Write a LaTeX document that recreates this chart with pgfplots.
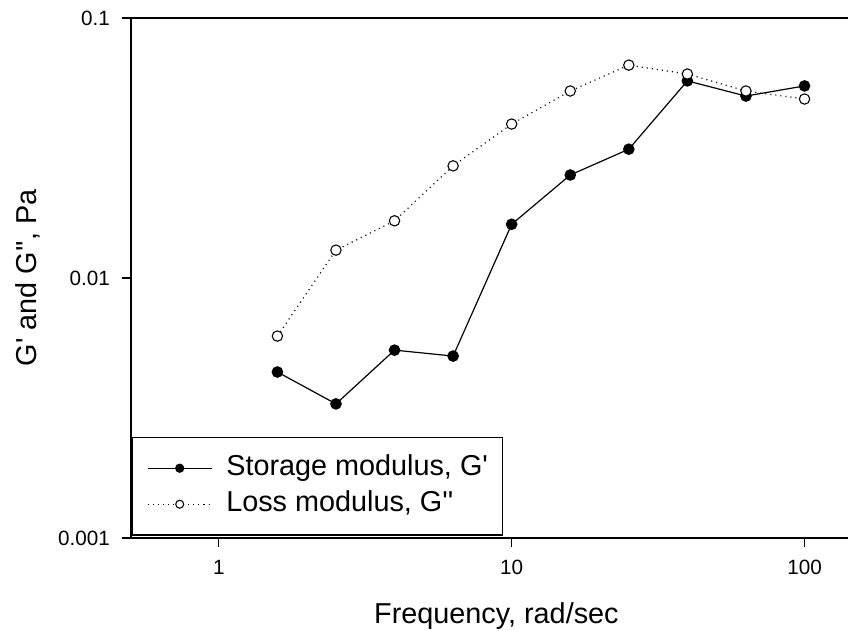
\documentclass[border=0pt]{standalone}
\usepackage{pgfplots}
\pgfplotsset{compat=1.18}
\usepackage{fontspec}
\setmainfont{Liberation Sans}
\newcommand{\sq}{\textquotesingle}
\begin{document}
\begin{tikzpicture}
\begin{axis}[
  scale only axis,
  width=571.5pt, height=390pt,
  xmode=log, ymode=log,
  xmin=0.5, xmax=200, ymin=0.001, ymax=0.1,
  xtick={1,10,100}, xticklabels={1,10,100},
  ytick={0.001,0.01,0.1}, yticklabels={0.001,0.01,0.1},
  minor tick style={draw=none},
  tick align=outside,
  xtick pos=bottom, ytick pos=left,
  major tick length=6.5pt,
  tick style={black, line width=0.9pt},
  axis line style={black, line width=1.3pt},
  ticklabel style={font=\fontsize{15.5}{18}\selectfont},
  yticklabel style={inner xsep=0pt, xshift=-9pt},
  xticklabel style={inner ysep=0pt, yshift=-10pt},
  /pgf/number format/assume math mode=true,
  xlabel={Frequency, rad/sec},
  ylabel={G\sq{} and G\sq\sq, Pa},
  label style={font=\fontsize{21.6}{26}\selectfont},
  xlabel style={at={(rel axis cs:0.480,-0.1635)}, anchor=base},
  ylabel style={at={(rel axis cs:-0.123,0.5)}, anchor=base, rotate=0},
  legend cell align=left,
  legend style={at={(rel axis cs:0.0013,0.0045)}, anchor=south west,
    draw=black, line width=1.2pt, inner xsep=11pt, inner ysep=13pt,
    row sep=7pt, column sep=10.5pt,
    font=\fontsize{21.6}{26}\selectfont,
    nodes={inner xsep=0pt, inner ysep=0pt, text height=15.5pt, text depth=4.5pt}},
  legend image code/.code={
    \draw[mark repeat=2, mark phase=2, #1, mark size=3pt]
      plot coordinates {(0pt,0pt) (24pt,0pt) (48pt,0pt)};
  },
]
\coordinate (sw) at (rel axis cs:0,0);
\coordinate (nw) at (rel axis cs:0,1);
\addplot[black, line width=0.9pt, mark=*, mark size=3.9pt,
  mark options={solid, fill=black, draw=black}]
  coordinates {(1.585,0.00435) (2.512,0.00328) (3.981,0.00528) (6.310,0.00501)
    (10,0.0161) (15.85,0.0249) (25.12,0.0313) (39.81,0.0573) (63.10,0.0501) (100,0.0548)};
\addlegendentry{Storage modulus, G\sq}
\addplot[black, line width=0.9pt, dash pattern=on 0.8pt off 3pt, mark=*, mark size=3.9pt,
  mark options={solid, fill=white, draw=black, line width=0.8pt}]
  coordinates {(1.585,0.00598) (2.512,0.0128) (3.981,0.0166) (6.310,0.0270)
    (10,0.0391) (15.85,0.0524) (25.12,0.0659) (39.81,0.0609) (63.10,0.0524) (100,0.0488)};
\addlegendentry{Loss modulus, G\sq\sq}
\end{axis}
\pgfresetboundingbox
\path[use as bounding box] ([shift={(-98pt,-69pt)}]sw) rectangle ([shift={(538pt,13.5pt)}]nw);
\end{tikzpicture}
\end{document}
